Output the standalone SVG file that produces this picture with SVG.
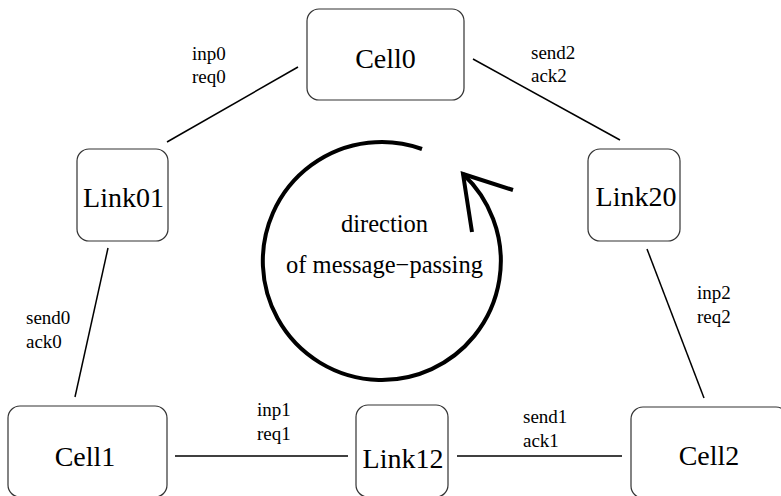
<svg xmlns="http://www.w3.org/2000/svg" width="781" height="496" viewBox="0 0 781 496">
<style>
.box{fill:#fff;stroke:#333;stroke-width:1.2}
text{font-family:'Liberation Serif','Times New Roman',Times,serif;fill:#000}
.big{font-size:28px;text-anchor:middle}
.lbl{font-size:19px}
.mid{font-size:24.5px;text-anchor:middle}
.conn{stroke:#000;stroke-width:1.5;fill:none}
.circ{stroke:#000;stroke-width:4;fill:none;stroke-linecap:butt;stroke-linejoin:miter}
</style>
<rect width="781" height="496" fill="#fff"/>
<g id="connectors">
<line class="conn" x1="298" y1="67" x2="167" y2="142"/>
<line class="conn" x1="473" y1="59" x2="620" y2="140"/>
<line class="conn" x1="108" y1="248" x2="75" y2="397"/>
<line class="conn" x1="647" y1="249" x2="704" y2="398"/>
<line class="conn" x1="175" y1="456" x2="348" y2="456"/>
<line class="conn" x1="457" y1="456" x2="622" y2="456"/>
</g>
<g id="labels">
<text class="lbl" x="192" y="60">inp0</text>
<text class="lbl" x="192" y="83">req0</text>
<text class="lbl" x="531" y="59">send2</text>
<text class="lbl" x="531" y="82">ack2</text>
<text class="lbl" x="26" y="324">send0</text>
<text class="lbl" x="26" y="348">ack0</text>
<text class="lbl" x="697" y="299">inp2</text>
<text class="lbl" x="697" y="323">req2</text>
<text class="lbl" x="257" y="416">inp1</text>
<text class="lbl" x="257" y="440">req1</text>
<text class="lbl" x="523" y="423">send1</text>
<text class="lbl" x="523" y="447">ack1</text>
</g>
<g id="direction">
<path class="circ" d="M 422 149 A 119 119 0 1 0 463 174"/>
<polyline class="circ" points="472,232 463,174 513,190"/>
<text class="mid" x="384.5" y="232">direction</text>
<text class="mid" x="384.5" y="273">of message−passing</text>
</g>
<g id="Cell0">
<rect class="box" x="307" y="9" width="157" height="91" rx="12"/>
<text class="big" x="385.5" y="68">Cell0</text>
</g>
<g id="Link01">
<rect class="box" x="77" y="149" width="91" height="92" rx="12"/>
<text class="big" x="123.5" y="207">Link01</text>
</g>
<g id="Link20">
<rect class="box" x="588" y="149" width="92" height="92" rx="12"/>
<text class="big" x="636" y="206">Link20</text>
</g>
<g id="Cell1">
<rect class="box" x="8" y="406" width="159" height="91" rx="12"/>
<text class="big" x="85" y="466">Cell1</text>
</g>
<g id="Link12">
<rect class="box" x="356" y="405" width="92" height="92" rx="12"/>
<text class="big" x="403" y="468">Link12</text>
</g>
<g id="Cell2">
<rect class="box" x="631" y="407" width="157" height="91" rx="12"/>
<text class="big" x="709" y="465">Cell2</text>
</g>
</svg>
